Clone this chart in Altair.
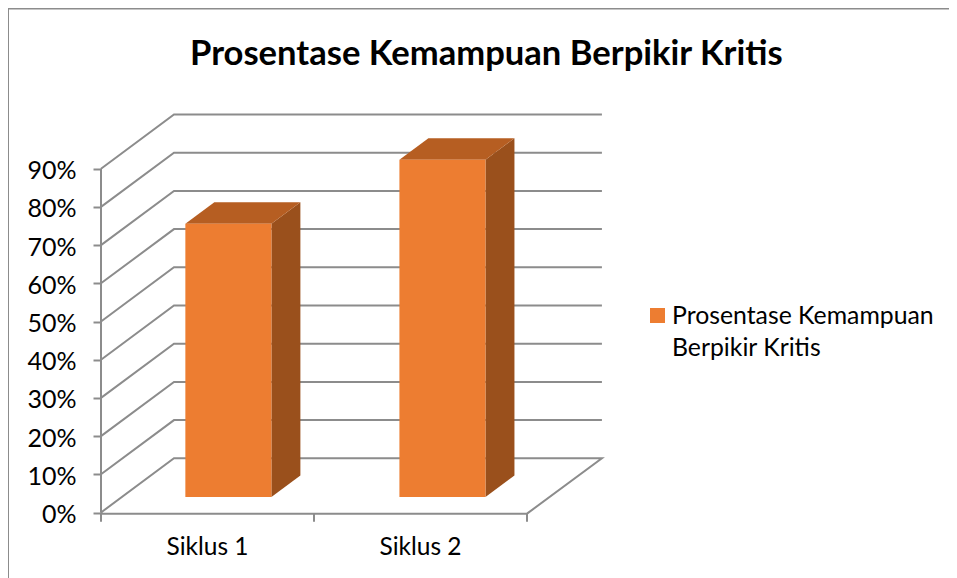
import altair as alt
import pandas as pd

categories = ["Siklus 1", "Siklus 2"]
values = [71.5, 88.3]
levels = [0, 10, 20, 30, 40, 50, 60, 70, 80, 90]
series_name = "Prosentase Kemampuan Berpikir Kritis"
legend_lines = ["Prosentase Kemampuan", "Berpikir Kritis"]

FONT = "Lato"
W, H = 941, 570
X0, Y0 = 93.0, 504.5      # chart position of the front-left origin
PX_X, PX_Y = 213.0, 3.82  # pixels per category unit, per percent
DX, DY = 73 / PX_X, 54.2 / PX_Y
NEAR, FAR = 0.286, 0.683
HALF = 0.202
GREY = "#8c8c8c"

xs = alt.Scale(domain=[-X0 / PX_X, (W - X0) / PX_X], nice=False, zero=False)
ys = alt.Scale(domain=[(Y0 - H) / PX_Y, Y0 / PX_Y], nice=False, zero=False)
y_axis = alt.Axis(
    values=levels, offset=-X0, domain=False, grid=False, title=None,
    tickSize=8, tickColor=GREY, tickWidth=2,
    labelExpr="datum.value + '%'", labelFont=FONT, labelFontSize=25,
    labelColor="#000000", labelPadding=17, labelOffset=2,
)

def X(f="x"):
    return alt.X(f"{f}:Q", scale=xs, axis=None)

def Y(f="y"):
    return alt.Y(f"{f}:Q", scale=ys, axis=y_axis, title=None)

# walls and floor
rows = []
for lv in levels:
    pts = [(0, lv), (DX, lv + DY), (2 + DX + 0.009, lv + DY)]
    if lv == 0:
        pts += [(2, -0.3), (0, -0.3), (0, 0)]
    for i, (x, y) in enumerate(pts):
        rows.append(dict(level=lv, o=i, x=x, y=y))
grid = alt.Chart(pd.DataFrame(rows)).mark_line(color=GREY, strokeWidth=2).encode(
    x=X(), y=Y(), detail="level:N", order="o:Q"
)

yline = alt.Chart(pd.DataFrame({"x": [0, 0], "y": [0, 90]})).mark_line(color=GREY, strokeWidth=2).encode(
    x=X(), y=Y()
)
xticks = alt.Chart(pd.DataFrame({"x": [0, 1, 2], "y": [-0.3, -0.3, -0.3], "y2": [-2.4, -2.4, -2.4]})).mark_rule(
    color=GREY, strokeWidth=2
).encode(x=X(), y=Y(), y2="y2:Q")

# bars
bar_layers = []
for i, (c, v) in enumerate(zip(categories, values)):
    cx = 0.5 + i * 1.005
    xl, xr = cx - HALF, cx + HALF
    side_df = pd.DataFrame({
        "x": [xr + NEAR * DX, xr + FAR * DX],
        "y": [NEAR * DY, FAR * DY],
        "y2": [v + NEAR * DY, v + FAR * DY],
    })
    top_df = pd.DataFrame({
        "y": [v + NEAR * DY, v + FAR * DY],
        "x": [xl + NEAR * DX, xl + FAR * DX],
        "x2": [xr + NEAR * DX, xr + FAR * DX],
    })
    front_df = pd.DataFrame({
        "x": [xl + NEAR * DX], "x2": [xr + NEAR * DX],
        "y": [NEAR * DY], "y2": [v + NEAR * DY],
    })
    bar_layers.append(alt.Chart(side_df).mark_area(color="#9A501C", opacity=1, orient="vertical").encode(
        x=X(), y=Y(), y2="y2:Q"))
    bar_layers.append(alt.Chart(top_df).mark_area(color="#B65E22", opacity=1, orient="horizontal").encode(
        y=Y(), x=X(), x2="x2:Q"))
    bar_layers.append(alt.Chart(front_df).mark_rect(color="#ED7D31").encode(
        x=X(), x2="x2:Q", y=Y(), y2="y2:Q"))

cat_labels = alt.Chart(pd.DataFrame({"cat": categories, "x": [0.5, 1.5]})).mark_text(
    font=FONT, fontSize=24.5, color="#000000", baseline="alphabetic"
).encode(x=X(), y=alt.value(547), text="cat:N")

frame_left = alt.Chart(pd.DataFrame({"a": [0]})).mark_rule(color=GREY, strokeWidth=2).encode(
    x=alt.value(0), y=alt.value(0), y2=alt.value(H)
)
frame_top = alt.Chart(pd.DataFrame({"a": [0]})).mark_rule(color=GREY, strokeWidth=2).encode(
    y=alt.value(0.5), x=alt.value(0), x2=alt.value(W)
)

swatch = alt.Chart(pd.DataFrame({"s": [series_name]})).mark_square(size=225, color="#ED7D31", opacity=1).encode(
    x=alt.value(649.5), y=alt.value(307.5)
)
leg_text = alt.Chart(pd.DataFrame({"t": legend_lines, "py": [316, 348]})).mark_text(
    font=FONT, fontSize=24.8, color="#000000", align="left", baseline="alphabetic"
).encode(x=alt.value(664), y=alt.Y("py:Q", scale=None), text="t:N")

chart = alt.layer(
    frame_left, frame_top, grid, yline, xticks, *bar_layers, cat_labels, swatch, leg_text
).properties(
    width=W, height=H, padding=0, autosize=alt.AutoSizeParams(type="none"),
    title=alt.TitleParams(
        series_name, font=FONT, fontSize=34.6, fontWeight="bold", color="#000000",
        anchor="start", frame="group", offset=-93, dx=182, baseline="alphabetic",
    ),
).configure_view(stroke=None).configure(background="white")

chart.save("out.html", embed_options={"renderer": "svg", "actions": False})
